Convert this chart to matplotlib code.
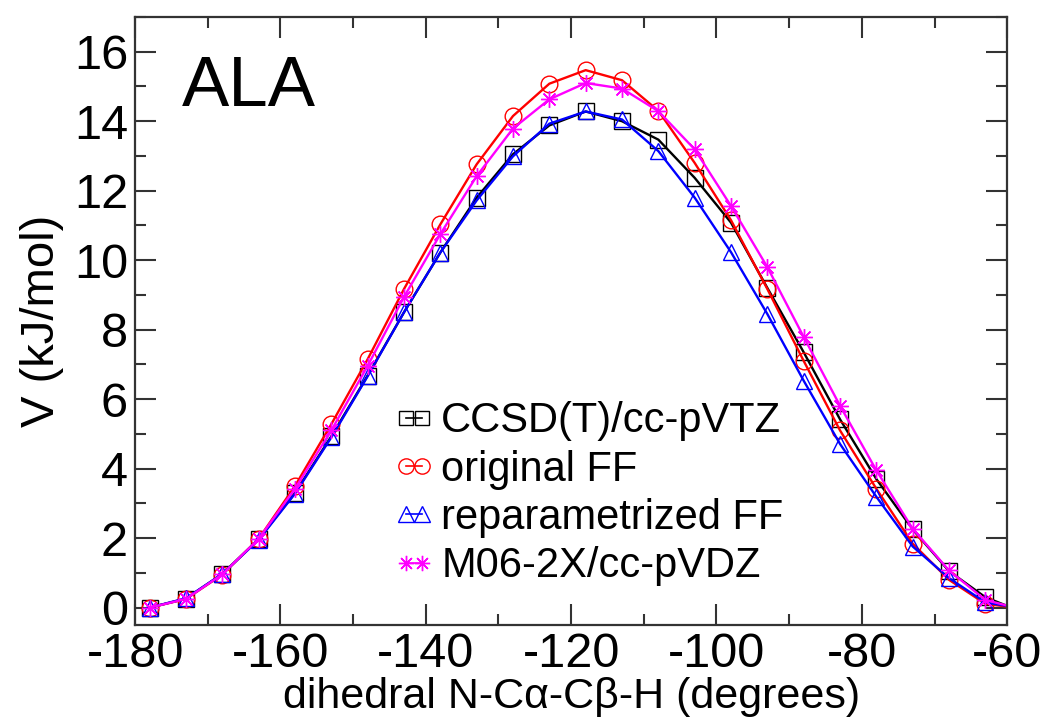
"""
Torsion profile N-CA-CB-H for ALA: CCSD(T) reference vs force fields.
"""

import matplotlib
matplotlib.use("Agg")
import matplotlib.pyplot as plt
from matplotlib.lines import Line2D
from matplotlib.ticker import MultipleLocator

plt.rcParams["font.family"] = ["Liberation Sans", "DejaVu Sans"]
plt.rcParams["axes.unicode_minus"] = False  # plain hyphen on tick labels

# ---------------------------------------------------------------------------
# Data
# ---------------------------------------------------------------------------

dihedral = [-178, -173, -168, -163, -158, -153, -148, -143, -138, -133, -128, -123,
            -118, -113, -108, -103, -98, -93, -88, -83, -78, -73, -68, -63]

ccsd_t = [0.0, 0.26, 0.97, 1.97, 3.30, 4.93, 6.68, 8.50, 10.22, 11.80, 13.05, 13.88,
          14.28, 14.00, 13.47, 12.37, 11.08, 9.20, 7.35, 5.42, 3.70, 2.25, 1.05, 0.30]
original_ff = [0.0, 0.25, 0.95, 1.98, 3.50, 5.28, 7.15, 9.17, 11.03, 12.76, 14.15, 15.08,
               15.47, 15.18, 14.30, 12.80, 11.15, 9.17, 7.10, 5.10, 3.42, 1.84, 0.80, 0.11]
reparam_ff = [0.0, 0.27, 0.97, 1.95, 3.28, 4.90, 6.66, 8.50, 10.22, 11.72, 12.99, 13.93,
              14.28, 14.05, 13.14, 11.80, 10.23, 8.45, 6.53, 4.71, 3.19, 1.76, 0.85, 0.15]
m062x = [0.0, 0.25, 0.96, 1.98, 3.42, 5.10, 6.96, 8.94, 10.75, 12.42, 13.79, 14.63,
         15.10, 14.94, 14.29, 13.19, 11.56, 9.80, 7.79, 5.81, 3.95, 2.27, 1.07, 0.22]

# value of each curve at the right edge (-60 deg)
edge_x = -60
edge_vals = [0.05, 0.03, 0.05, 0.06]

labels = ["CCSD(T)/cc-pVTZ", "original FF", "reparametrized FF", "M06-2X/cc-pVDZ"]
series = [ccsd_t, original_ff, reparam_ff, m062x]
colors = ["#000000", "#ff0000", "#0000ff", "#ff00ff"]
markers = ["s", "o", "^", (8, 2, 0)]
msizes = [11, 12, 12, 12]

# ---------------------------------------------------------------------------
# Figure
# ---------------------------------------------------------------------------

fig = plt.figure(figsize=(10.47, 7.23), dpi=100)
ax = fig.add_axes([0.129, 0.1355, 0.833, 0.841])

handles = []
for vals, tail, lab, col, mk, ms in zip(series, edge_vals, labels, colors, markers, msizes):
    # curve runs to the right edge, markers only on the computed points
    ax.plot(dihedral + [edge_x], vals + [tail], color=col, linewidth=1.7)
    ax.plot(dihedral, vals, linestyle="none",
            marker=mk, markersize=ms, markerfacecolor="none",
            markeredgecolor=col, markeredgewidth=1.0)
    handles.append(Line2D([], [], color=col, linewidth=1.2,
                          marker=mk, markersize=ms - 1, markerfacecolor="none",
                          markeredgecolor=col, markeredgewidth=1.0, label=lab))

ax.set_xlim(-180, -60)
ax.set_ylim(-0.5, 17)
ax.xaxis.set_major_locator(MultipleLocator(20))
ax.xaxis.set_minor_locator(MultipleLocator(10))
ax.yaxis.set_major_locator(MultipleLocator(2))
ax.yaxis.set_minor_locator(MultipleLocator(1))

ax.tick_params(which="both", direction="in", top=True, right=True,
               color="#333333", width=1.5, labelsize=35)
ax.tick_params(which="major", length=15, pad=5)
ax.tick_params(which="minor", length=8)
for sp in ax.spines.values():
    sp.set_color("#333333")
    sp.set_linewidth(1.6)

ax.set_xlabel("dihedral N-C\u03b1-C\u03b2-H (degrees)", fontsize=31, labelpad=0)
ax.set_ylabel("V (kJ/mol)", fontsize=34, labelpad=7)

ax.text(-173.6, 14.45, "ALA", fontsize=51, ha="left", va="baseline")

ax.legend(handles=handles, loc="upper left", bbox_to_anchor=(0.296, 0.368),
          frameon=False, fontsize=30, numpoints=2, handlelength=1.0,
          handletextpad=0.15, labelspacing=0.2, borderpad=0, borderaxespad=0)

fig.savefig("out.png", dpi=100)
plt.close(fig)
